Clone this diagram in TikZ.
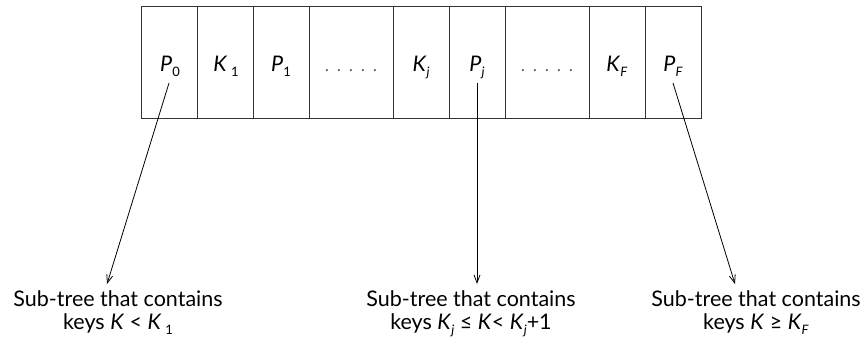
\documentclass[tikz,border=0pt]{standalone}
\usepackage{fontspec}
\setmainfont{Lato}
\usetikzlibrary{arrows.meta}
\tikzset{
  cell/.style={draw=black!80, line width=1pt, minimum height=112pt, inner sep=0pt},
  lbl/.style={align=center, font=\fontsize{21.5}{23}\selectfont, inner sep=0pt},
  dots/.style={font=\fontsize{16}{18}\selectfont, text=black!70, inner sep=0pt},
  ptr/.style={line width=0.8pt, -{Straight Barb[length=8pt,width=6pt]}}
}
\newcommand{\iv}[1]{\textit{#1}}
\newcommand{\sub}[1]{\raisebox{-0.25em}{\fontsize{13}{14}\selectfont #1}}
\begin{document}
\begin{tikzpicture}[x=1pt,y=-1pt]
\useasboundingbox (0,0) rectangle (866,341);
% cells
\node[cell, minimum width=56pt] (c1) at (169,62) {};
\node[cell, minimum width=56pt] (c2) at (225,62) {};
\node[cell, minimum width=56pt] (c3) at (281,62) {};
\node[cell, minimum width=84pt] (c4) at (351,62) {};
\node[cell, minimum width=56pt] (c5) at (421,62) {};
\node[cell, minimum width=56pt] (c6) at (477,62) {};
\node[cell, minimum width=84pt] (c7) at (547,62) {};
\node[cell, minimum width=56pt] (c8) at (617,62) {};
\node[cell, minimum width=56pt] (c9) at (673,62) {};
% cell texts
\node[lbl, anchor=base] (t1) at (170,71) {\iv{P}\sub{0}};
\node[lbl, anchor=base] (t2) at (226,71) {\iv{K}\,\sub{1}};
\node[lbl, anchor=base] (t3) at (281,71) {\iv{P}\sub{1}};
\node[dots, anchor=base] (t4) at (351,71) {.\ \ .\ \ .\ \ .\ \ .};
\node[lbl, anchor=base] (t5) at (421,71) {\iv{K}\sub{\iv{j}}};
\node[lbl, anchor=base] (t6) at (477,71) {\iv{P}\sub{\iv{j}}};
\node[dots, anchor=base] (t7) at (547,71) {.\ \ .\ \ .\ \ .\ \ .};
\node[lbl, anchor=base] (t8) at (617,71) {\iv{K}\sub{\iv{F}}};
\node[lbl, anchor=base] (t9) at (673,71) {\iv{P}\sub{\iv{F}}};
% labels
\node[lbl, anchor=north] (l1) at (118,290) {Sub-tree that contains\\keys \iv{K} < \iv{K}\,\sub{1}};
\node[lbl, anchor=north] (l2) at (471,290) {Sub-tree that contains\\keys \iv{K}\sub{\iv{j}} ≤ \iv{K}< \iv{K}\sub{\iv{j}}+1};
\node[lbl, anchor=north] (l3) at (756,290) {Sub-tree that contains\\keys \iv{K} ≥ \iv{K}\sub{\iv{F}}};
% connector ends
\coordinate (s1) at (169,83);
\coordinate (s2) at (477,83);
\coordinate (s3) at (673,83);
\coordinate (e1) at (107,284);
\coordinate (e2) at (477,284);
\coordinate (e3) at (735,284);
\draw[ptr] (s1) -- (e1);
\draw[ptr] (s2) -- (e2);
\draw[ptr] (s3) -- (e3);
\end{tikzpicture}
\end{document}
